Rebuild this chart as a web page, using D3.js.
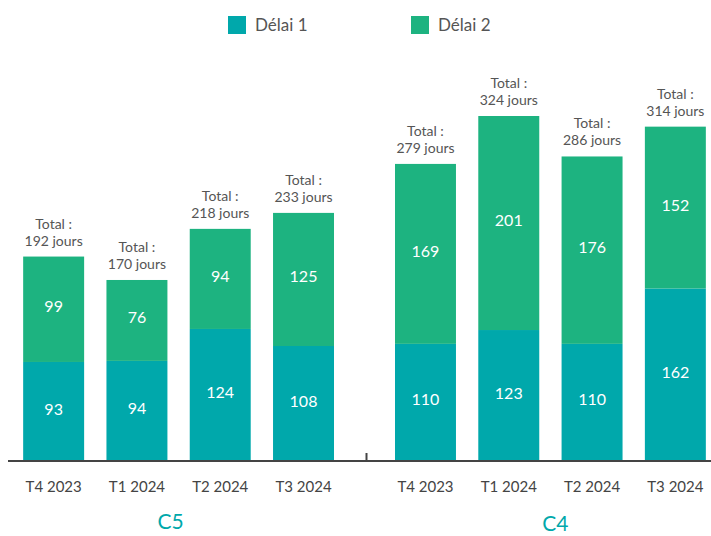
<!DOCTYPE html>
<html>
<head>
<meta charset="utf-8">
<script src="https://cdn.jsdelivr.net/npm/d3@7"></script>
<style>
  body { margin: 0; background: #fff; }
  svg { font-family: Lato, "Open Sans", sans-serif; }
</style>
</head>
<body>
<svg width="711" height="536"></svg>
<script>
// data
var groups = ["C5", "C4"];
var quarters = ["T4 2023", "T1 2024", "T2 2024", "T3 2024"];
var series = ["Délai 1", "Délai 2"];
var delai1 = {C5: [93, 94, 124, 108], C4: [110, 123, 110, 162]};
var delai2 = {C5: [99, 76, 94, 125], C4: [169, 201, 176, 152]};
var colors = ["#00a8ab", "#1db380"];

// flatten to rows
var rows = [];
groups.forEach(function(g) {
    quarters.forEach(function(q, i) {
        rows.push({group: g, quarter: q, d1: delai1[g][i], d2: delai2[g][i], total: delai1[g][i] + delai2[g][i]});
    });
});

var svg = d3.select("svg");
var baseline = 461;

var x0 = d3.scaleBand()
    .domain(groups)
    .range([12, 717])
    .paddingInner(0.104);

var x1 = d3.scaleBand()
    .domain(quarters)
    .range([0, x0.bandwidth()])
    .paddingInner(0.268)
    .paddingOuter(0.134);

var y = d3.scaleLinear()
    .domain([0, d3.max(rows, function(d){ return d.total; })])
    .range([baseline, 116]);

var stack = d3.stack().keys(["d1", "d2"]);
var stacked = stack(rows);

var g = svg.append("g");

// bars
g.selectAll("g.layer")
    .data(stacked)
    .enter()
    .append("g")
    .attr("class", "layer")
    .attr("fill", function(d, i){ return colors[i]; })
    .selectAll("rect")
    .data(function(d){ return d; })
    .enter()
    .append("rect")
    .attr("x", function(d){ return x0(d.data.group) + x1(d.data.quarter); })
    .attr("y", function(d){ return y(d[1]); })
    .attr("width", x1.bandwidth())
    .attr("height", function(d){ return y(d[0]) - y(d[1]); });

// value labels inside the bars
stacked.forEach(function(layer) {
    g.selectAll(null)
        .data(layer)
        .enter()
        .append("text")
        .attr("x", function(d){ return x0(d.data.group) + x1(d.data.quarter) + x1.bandwidth() / 2; })
        .attr("y", function(d){ return (y(d[0]) + y(d[1])) / 2 - 1; })
        .attr("text-anchor", "middle")
        .attr("dominant-baseline", "middle")
        .attr("fill", "#fff")
        .style("font-size", "16px")
        .text(function(d){ return d[1] - d[0]; });
});

// total labels
var tot = g.selectAll("text.total")
    .data(rows)
    .enter()
    .append("text")
    .attr("class", "total")
    .attr("text-anchor", "middle")
    .attr("fill", "#555")
    .style("font-size", "14px");
tot.append("tspan")
    .attr("x", function(d){ return x0(d.group) + x1(d.quarter) + x1.bandwidth() / 2; })
    .attr("y", function(d){ return y(d.total) - 28; })
    .text("Total :");
tot.append("tspan")
    .attr("x", function(d){ return x0(d.group) + x1(d.quarter) + x1.bandwidth() / 2; })
    .attr("y", function(d){ return y(d.total) - 11; })
    .text(function(d){ return d.total + " jours"; });

// axis line and separator tick
svg.append("line")
    .attr("x1", 8).attr("x2", 711)
    .attr("y1", baseline).attr("y2", baseline)
    .attr("stroke", "#444").attr("stroke-width", 2);
var sep = (x0("C5") + x0.bandwidth() + x0("C4")) / 2 + 2;
svg.append("line")
    .attr("x1", sep).attr("x2", sep)
    .attr("y1", baseline - 8).attr("y2", baseline)
    .attr("stroke", "#444").attr("stroke-width", 2);

// quarter labels
g.selectAll("text.cat")
    .data(rows)
    .enter()
    .append("text")
    .attr("class", "cat")
    .attr("x", function(d){ return x0(d.group) + x1(d.quarter) + x1.bandwidth() / 2; })
    .attr("y", 492)
    .attr("text-anchor", "middle")
    .attr("fill", "#444")
    .style("font-size", "15px")
    .text(function(d){ return d.quarter; });

// group labels
svg.selectAll("text.grp")
    .data(groups)
    .enter()
    .append("text")
    .attr("class", "grp")
    .attr("x", function(d, i){ return x0(d) + x0.bandwidth() / 2 + (i === 0 ? -8 : 5); })
    .attr("y", function(d, i){ return i === 0 ? 529 : 531; })
    .attr("text-anchor", "middle")
    .attr("fill", "#00a8ab")
    .style("font-size", "21px")
    .text(function(d){ return d; });

// legend
var legX = [228, 411];
var leg = svg.selectAll("g.leg")
    .data(series)
    .enter()
    .append("g")
    .attr("class", "leg")
    .attr("transform", function(d, i){ return "translate(" + legX[i] + ",16)"; });
leg.append("rect")
    .attr("width", 18).attr("height", 18)
    .attr("fill", function(d, i){ return colors[i]; });
leg.append("text")
    .attr("x", 27).attr("y", 15)
    .attr("fill", "#555")
    .style("font-size", "17px")
    .text(function(d){ return d; });
</script>
</body>
</html>
